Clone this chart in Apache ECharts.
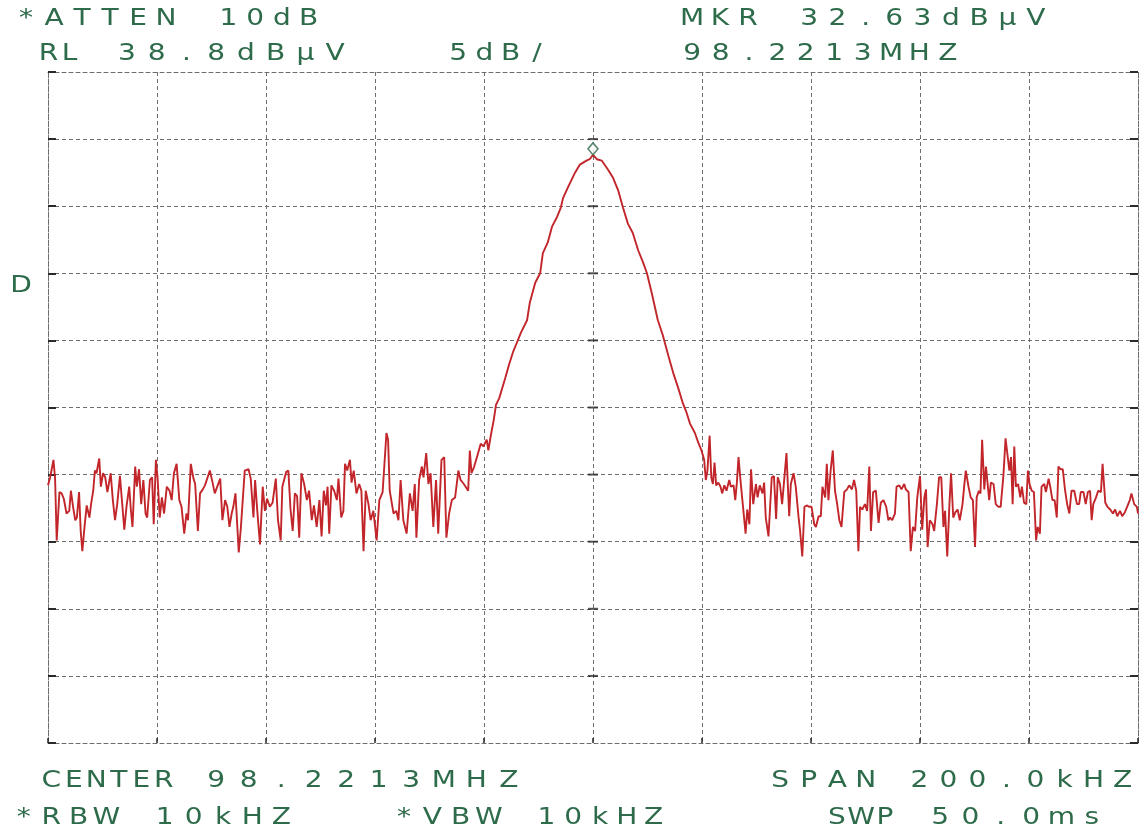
<!DOCTYPE html>
<html>
<head>
<meta charset="utf-8">
<title>Spectrum 98.2213 MHz</title>
<script src="https://cdn.jsdelivr.net/npm/echarts@6/dist/echarts.min.js"></script>
<style>
  html, body { margin: 0; padding: 0; background: #ffffff; }
  #chart { width: 1146px; height: 834px; }
</style>
</head>
<body>
<div id="chart"></div>
<script>
// Analyzer settings
const centerMHz = 98.2213;
const spanKHz = 200;
const refLevel = 38.8;      // dBµV at top graticule line
const dbPerDiv = 5;
const divisions = 10;
const markerOffsetKHz = 0;
const markerLevel = 32.63;  // dBµV

// Trace: frequency offset from center (kHz) and level (dBµV)
const traceOffsetKHz = [
  -100.0, -99.6, -99.0, -98.7, -98.4, -97.9, -97.5, -97.1, -96.6, -96.1,
  -95.8, -95.4, -95.0, -94.7, -94.3, -94.0, -93.7, -93.3, -92.9, -92.4,
  -92.1, -91.7, -91.4, -91.1, -90.6, -90.3, -89.9, -89.5, -89.1, -88.5,
  -88.1, -87.7, -87.3, -86.8, -86.4, -86.0, -85.6, -85.1, -84.8, -84.5,
  -84.0, -83.7, -83.3, -82.9, -82.5, -82.1, -81.8, -81.3, -80.9, -80.6,
  -80.2, -79.9, -79.5, -79.1, -78.7, -78.2, -77.7, -77.3, -76.9, -76.4,
  -75.9, -75.5, -75.0, -74.6, -74.3, -73.8, -73.3, -73.0, -72.5, -72.1,
  -71.6, -71.2, -70.3, -69.8, -69.4, -68.4, -68.0, -67.5, -67.1, -66.7,
  -66.3, -66.0, -65.6, -65.0, -64.6, -63.9, -63.2, -62.8, -62.3, -62.0,
  -61.6, -61.1, -60.6, -60.2, -59.8, -59.3, -58.8, -58.2, -57.8, -57.3,
  -57.0, -56.3, -55.9, -55.5, -55.1, -54.7, -54.3, -53.9, -53.5, -53.0,
  -52.5, -52.1, -51.6, -51.2, -50.7, -50.2, -49.8, -49.4, -49.0, -48.7,
  -48.4, -48.0, -47.5, -47.0, -46.7, -46.2, -45.8, -45.5, -45.1, -44.6,
  -44.3, -43.9, -43.4, -42.9, -42.5, -42.1, -41.7, -41.2, -40.8, -40.3,
  -39.7, -39.2, -38.6, -37.9, -37.6, -37.3, -36.6, -36.1, -35.7, -35.3,
  -34.8, -34.2, -33.6, -33.1, -32.7, -32.4, -31.9, -31.4, -31.1, -30.6,
  -30.2, -29.8, -29.3, -28.8, -28.4, -27.8, -27.3, -26.9, -26.4, -25.9,
  -25.3, -24.7, -24.3, -23.7, -22.9, -22.6, -22.3, -21.8, -21.3, -20.6,
  -20.1, -19.5, -19.2, -18.8,
  -18.2, -17.8, -17.2, -16.1, -15.4, -14.7, -13.9, -13.2, -12.1, -11.6,
  -10.6, -9.7, -9.2, -8.3, -7.5, -6.6, -5.9, -5.5, -4.6, -3.3,
  -2.4, -1.2, -0.6, 0.0, 0.7, 1.6, 2.8, 3.7, 4.6, 5.5,
  6.4, 7.3, 8.3, 9.2, 9.9, 10.8, 11.9, 12.8, 13.8, 14.7,
  15.6, 16.5, 17.1,
  17.8, 18.7, 19.3, 19.9, 20.4, 20.7, 21.0, 21.4, 21.7, 22.0,
  22.3, 22.6, 23.0, 23.4, 23.7, 24.1, 24.5, 25.0, 25.3, 25.8,
  26.1, 26.4, 26.7, 27.1, 27.6, 28.0, 28.3, 28.7, 29.0, 29.4,
  29.9, 30.2, 30.6, 31.1, 31.4, 31.7, 32.2, 32.5, 32.8, 33.2,
  33.6, 33.9, 34.3, 34.7, 35.1, 35.5, 36.0, 36.3, 36.8, 37.2,
  37.7, 38.0, 38.4, 38.8, 39.2, 39.7, 40.1, 40.6, 40.9, 41.4,
  41.8, 42.1, 42.6, 42.9, 43.2, 43.6, 44.0, 44.4, 44.8, 45.2,
  45.6, 46.1, 46.6, 47.0, 47.5, 47.9, 48.3, 48.7, 49.0, 49.4,
  49.9, 50.3, 50.7, 51.0, 51.4, 51.9, 52.4, 52.8, 53.3, 53.8,
  54.2, 54.5, 54.9, 55.4, 55.7, 56.2, 56.6, 57.1, 57.4, 57.9,
  58.3, 58.7, 59.1, 59.5, 60.0, 60.4, 60.8, 61.1, 61.4, 61.8,
  62.3, 62.6, 63.1, 63.5, 63.9, 64.3, 64.6, 65.0, 65.4, 65.7,
  66.1, 66.5, 66.9, 67.3, 67.8, 68.1, 68.4, 68.9, 69.3, 69.7,
  70.1, 70.4, 70.8, 71.1, 71.4, 71.8, 72.1, 72.4, 72.7, 73.0,
  73.5, 73.9, 74.4, 74.8, 75.3, 75.7, 76.1, 76.4, 76.7, 77.0,
  77.3, 77.6, 78.0, 78.4, 78.7, 79.1, 79.5, 79.8, 80.1, 80.5,
  80.9, 81.3, 81.6, 82.0, 82.3, 82.8, 83.1, 83.6, 83.9, 84.3,
  84.7, 85.1, 85.4, 85.8, 86.2, 86.6, 87.0, 87.4, 87.8, 88.3,
  88.8, 89.2, 89.5, 90.0, 90.4, 90.8, 91.2, 91.5, 91.8, 92.3,
  92.7, 93.2, 93.5, 94.0, 94.4, 94.9, 95.4, 95.8, 96.2, 96.7,
  97.1, 97.6, 98.0, 98.5, 98.8, 99.3, 99.8, 100.0
];

const traceLevel = [
  8.0, 8.6, 9.9, 8.5, 3.9, 7.5, 7.4, 7.0, 5.9, 6.1,
  7.6, 6.4, 5.4, 5.6, 7.5, 4.6, 3.1, 4.9, 6.5, 5.6,
  6.6, 7.6, 9.1, 8.9, 10.0, 7.9, 8.9, 8.6, 7.5, 8.9,
  6.9, 5.4, 6.6, 8.7, 6.7, 4.7, 6.4, 7.9, 6.2, 4.9,
  9.4, 7.9, 9.2, 6.6, 8.4, 5.9, 5.6, 8.4, 8.6, 5.1,
  9.9, 8.6, 5.6, 7.1, 5.9, 7.9, 7.6, 6.9, 8.9, 9.6,
  6.9, 6.4, 4.4, 5.9, 5.4, 9.6, 8.5, 8.1, 4.6, 7.4,
  7.7, 8.0, 9.1, 8.2, 7.4, 8.5, 5.4, 6.9, 6.4, 4.9,
  5.9, 6.4, 7.4, 3.0, 4.9, 9.1, 9.2, 8.5, 5.6, 8.4,
  6.1, 3.6, 7.9, 6.1, 7.0, 6.4, 6.7, 8.5, 5.4, 3.9,
  7.9, 9.0, 9.1, 6.2, 4.6, 7.4, 7.2, 4.1, 8.9, 8.1,
  6.9, 7.6, 5.4, 6.5, 4.9, 6.9, 4.2, 7.6, 6.5, 7.9,
  4.4, 8.0, 7.6, 6.9, 8.5, 5.6, 6.1, 9.6, 9.1, 9.9,
  8.2, 9.1, 7.4, 8.1, 7.6, 3.1, 7.6, 6.6, 5.4, 6.1,
  3.9, 6.9, 7.5, 11.9, 11.4, 7.6, 5.9, 6.1, 5.4, 8.4,
  5.4, 4.4, 7.4, 6.1, 8.1, 4.1, 8.4, 9.4, 8.6, 10.4,
  8.1, 8.9, 4.9, 8.4, 4.4, 9.9, 10.1, 4.1, 5.9, 6.9,
  7.1, 9.1, 8.4, 8.1, 7.6, 10.6, 8.9, 9.4, 10.1, 11.1,
  10.9, 11.4, 10.6, 11.6,
  12.9, 14.0, 14.5, 16.0, 17.0, 17.9, 18.7, 19.4, 20.3, 21.6,
  23.1, 23.8, 25.3, 26.1, 27.3, 28.0, 28.7, 29.4, 30.2, 31.3,
  31.9, 32.2, 32.3, 32.63, 32.3, 32.2, 31.5, 30.9, 30.0, 28.7,
  27.5, 26.8, 25.5, 24.6, 23.8, 22.3, 20.3, 19.2, 17.7, 16.4,
  15.3, 14.1, 13.5,
  12.6, 11.9, 11.2, 10.6, 9.9, 8.4, 9.1, 11.7, 8.6, 8.1,
  9.7, 8.0, 8.2, 7.9, 7.4, 8.0, 7.6, 8.4, 7.9, 8.0,
  6.9, 8.2, 10.1, 8.2, 6.1, 4.4, 6.2, 5.1, 9.2, 6.6,
  8.1, 7.1, 8.0, 7.4, 8.2, 5.6, 4.2, 6.4, 8.6, 8.7,
  5.5, 8.6, 8.1, 6.6, 8.5, 10.4, 5.7, 8.1, 8.9, 7.9,
  5.7, 4.6, 2.7, 6.4, 6.5, 6.4, 6.4, 5.1, 4.9, 5.7,
  5.7, 7.9, 7.1, 9.6, 6.9, 9.1, 10.6, 7.6, 6.6, 5.4,
  4.9, 7.5, 7.7, 8.0, 7.7, 8.4, 7.6, 3.1, 6.4, 6.2,
  6.6, 6.1, 9.4, 4.6, 7.5, 7.6, 5.2, 6.7, 6.9, 6.4,
  5.4, 5.6, 5.4, 5.9, 7.9, 8.0, 7.7, 8.1, 7.7, 7.5,
  3.1, 4.9, 4.6, 7.1, 8.7, 4.7, 7.1, 7.7, 3.4, 5.4,
  5.1, 4.6, 6.6, 8.6, 8.6, 4.9, 6.1, 2.7, 6.6, 8.9,
  5.6, 6.0, 6.2, 5.4, 6.6, 7.9, 9.1, 7.9, 7.1, 6.9,
  3.4, 7.1, 7.6, 7.4, 11.4, 7.7, 9.4, 9.5, 6.9, 8.2,
  8.1, 6.6, 6.4, 6.4, 8.7, 11.5, 10.1, 9.1, 10.1, 6.6,
  10.9, 7.9, 8.1, 7.1, 7.9, 6.7, 6.6, 9.1, 8.1, 7.6,
  7.5, 3.9, 4.9, 4.4, 7.9, 8.1, 7.5, 8.5, 7.9, 6.9,
  6.9, 5.6, 9.4, 9.2, 9.2, 7.7, 6.6, 5.9, 7.6, 7.6,
  6.6, 6.6, 7.5, 7.5, 6.6, 7.5, 7.6, 5.4, 6.6, 7.1,
  7.6, 7.5, 9.6, 6.7, 6.4, 6.2, 5.9, 6.2, 5.7, 6.1,
  5.7, 6.0, 6.4, 6.9, 7.4, 6.6, 6.4, 5.9
];

// Annotation text runs: [text, left, right, centerY]
const headerRuns = [
  ['*ATTEN', 12, 180, 19], ['10dB', 215, 322, 19],
  ['MKR', 678, 762, 19], ['32.63dBµV', 795, 1050, 19],
  ['RL', 38, 80, 54], ['38.8dBµV', 112, 350, 54],
  ['5dB/', 445, 550, 54], ['98.2213MHZ', 678, 962, 54]
];
const footerRuns = [
  ['CENTER', 40, 175, 781], ['98.2213MHZ', 200, 525, 781],
  ['SPAN', 766, 880, 781], ['200.0kHZ', 905, 1137, 781],
  ['*RBW', 10, 120, 818], ['10kHZ', 150, 296, 818],
  ['*VBW', 390, 503, 818], ['10kHZ', 533, 667, 818],
  ['SWP', 825, 897, 818], ['50.0ms', 925, 1107, 818]
];
const sideRuns = [['D', 10, 32, 286]];

const TEXT_COLOR = '#2e6b4b';
const GRID_COLOR = '#6e6e6e';
const TICK_COLOR = '#2a2a2a';
const TRACE_COLOR = '#c2262b';
const PLOT = { left: 48, top: 72, width: 1090, height: 671 };

// Plotter-style lettering: each glyph gets an equal cell within its run
function runGlyphs(runs) {
  const out = [];
  runs.forEach(([txt, left, right, cy]) => {
    const chars = Array.from(txt);
    const cell = (right - left) / chars.length;
    chars.forEach((ch, i) => {
      out.push({
        type: 'text',
        silent: true,
        x: left + cell * (i + 0.5),
        y: cy,
        scaleX: 1.22,
        style: {
          text: ch,
          fill: TEXT_COLOR,
          fontSize: 23,
          fontFamily: 'DejaVu Sans',
          fontWeight: 'normal',
          align: 'center',
          verticalAlign: 'middle',
          textAlign: 'center',
          textVerticalAlign: 'middle'
        }
      });
    });
  });
  return out;
}

const traceData = traceOffsetKHz.map((f, i) => [f, traceLevel[i]]);
// graticule crossings on the centre frequency line
const centerMarks = [];
for (let k = 1; k < divisions; k++) centerMarks.push([0, refLevel - k * dbPerDiv]);

const halfSpan = spanKHz / 2;
const gridDash = { color: GRID_COLOR, type: [4, 3], width: 1 };

// graticule axis in divisions (0..10), used for lines and edge marks
function divAxis(position, extra) {
  return Object.assign({
    type: 'value', min: 0, max: divisions, interval: 1, position: position,
    axisLine: { show: true, onZero: false, lineStyle: gridDash },
    axisTick: { show: true, inside: true, length: 8, lineStyle: { color: TICK_COLOR, width: 2 } },
    axisLabel: { show: false },
    splitLine: { show: false }
  }, extra || {});
}

const chart = echarts.init(document.getElementById('chart'), null, { renderer: 'canvas' });
chart.setOption({
  animation: false,
  backgroundColor: '#ffffff',
  grid: { left: PLOT.left, top: PLOT.top, width: PLOT.width, height: PLOT.height, containLabel: false },
  xAxis: [
    {
      type: 'value', min: -halfSpan, max: halfSpan, interval: spanKHz / divisions,
      position: 'bottom',
      axisLine: { show: true, onZero: false, lineStyle: gridDash },
      axisTick: { show: true, inside: true, length: 5, lineStyle: { color: TICK_COLOR, width: 1.5 } },
      axisLabel: { show: false },
      splitLine: { show: true, lineStyle: gridDash }
    },
    {
      type: 'value', min: -halfSpan, max: halfSpan, interval: spanKHz / divisions,
      position: 'top',
      axisLine: { show: true, onZero: false, lineStyle: gridDash },
      axisTick: { show: false }, axisLabel: { show: false }, splitLine: { show: false }
    }
  ],
  yAxis: [
    {
      type: 'value', min: refLevel - divisions * dbPerDiv, max: refLevel,
      show: false,
      axisLine: { onZero: false }
    },
    divAxis('left', { splitLine: { show: true, lineStyle: gridDash } }),
    divAxis('right')
  ],
  series: [
    {
      name: 'centre marks',
      type: 'scatter',
      xAxisIndex: 0, yAxisIndex: 0,
      data: centerMarks,
      symbol: 'rect',
      symbolSize: [10, 2],
      itemStyle: { color: TICK_COLOR },
      silent: true,
      z: 2
    },
    {
      name: 'trace',
      type: 'line',
      xAxisIndex: 0, yAxisIndex: 0,
      data: traceData,
      showSymbol: false,
      smooth: false,
      lineStyle: { color: TRACE_COLOR, width: 1.9 },
      silent: true,
      z: 3
    },
    {
      name: 'marker',
      type: 'scatter',
      xAxisIndex: 0, yAxisIndex: 0,
      data: [[markerOffsetKHz, markerLevel]],
      symbol: 'diamond',
      symbolSize: [10, 12],
      symbolOffset: [0, -6],
      itemStyle: { color: '#ffffff', borderColor: TEXT_COLOR, borderWidth: 1.6 },
      silent: true,
      z: 4
    }
  ],
  graphic: { elements: runGlyphs(headerRuns).concat(runGlyphs(footerRuns), runGlyphs(sideRuns)) }
});
</script>
</body>
</html>
